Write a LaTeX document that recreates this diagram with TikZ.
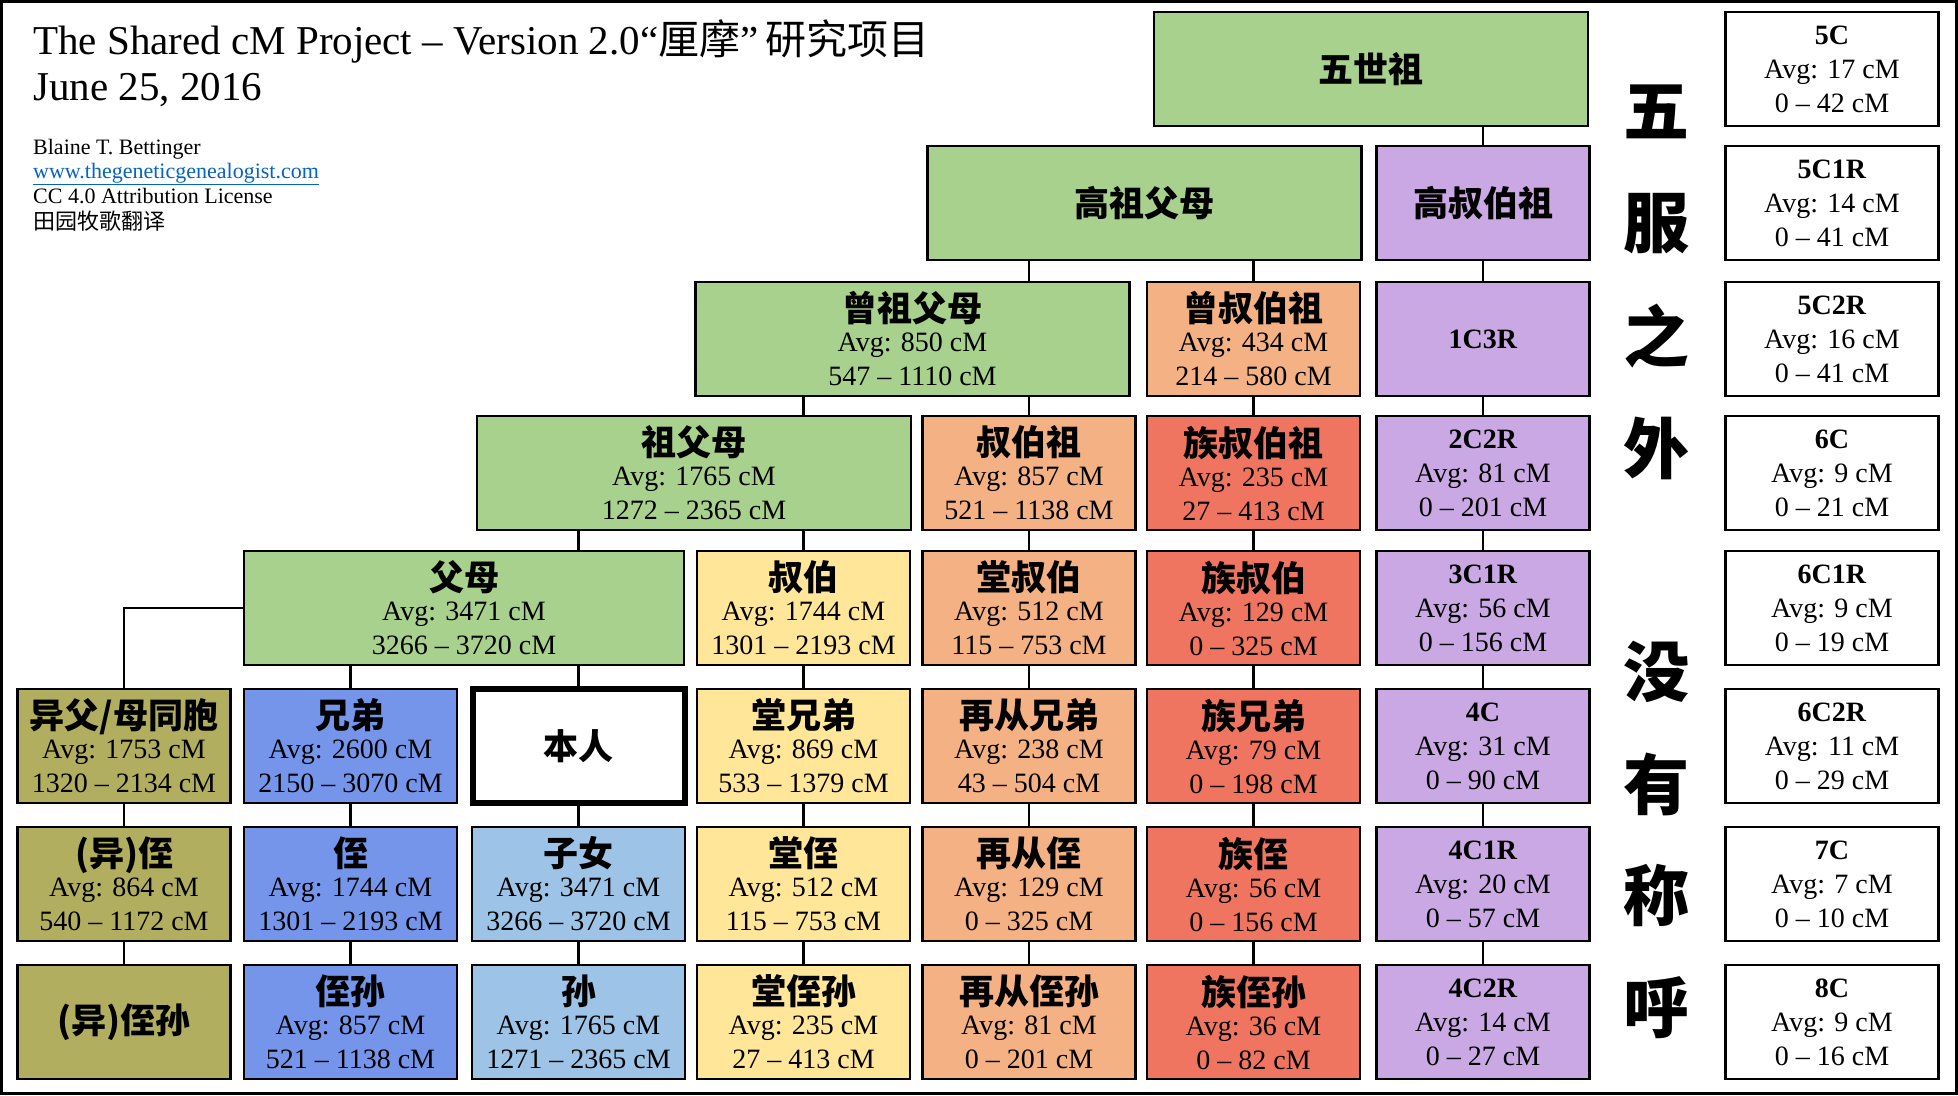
\documentclass[tikz,border=0pt]{standalone}
\usepackage{fontspec}
\setmainfont{Liberation Serif}
\newfontfamily\zh{Noto Sans CJK SC}

\definecolor{cgreen}{HTML}{A9D18E}
\definecolor{corange}{HTML}{F4B183}
\definecolor{cred}{HTML}{EF7561}
\definecolor{cyellow}{HTML}{FFE699}
\definecolor{cpurple}{HTML}{CAA8E3}
\definecolor{colive}{HTML}{B2AE5F}
\definecolor{cblue}{HTML}{7595EA}
\definecolor{clightblue}{HTML}{9DC3E6}
\definecolor{linkblue}{HTML}{0563C1}

\newcommand{\lab}[1]{{\zh\bfseries\fontsize{35}{34}\selectfont #1}}

\begin{document}
\begin{tikzpicture}[x=1pt, y=-1pt,
  box/.style={draw, line width=2.6pt, minimum width=213pt, minimum height=114pt,
    inner sep=0pt, align=center, font=\fontsize{28}{34}\selectfont},
  wide/.style={box, minimum width=434pt},
  link/.style={line width=2.6pt},
  note/.style={anchor=base west, inner sep=0pt, font=\fontsize{22}{22}\selectfont},
  bigzh/.style={inner sep=0pt, font=\zh\bfseries\fontsize{66}{66}\selectfont}]
    \useasboundingbox (0,0) rectangle (1958,1095);
    \draw[line width=3pt] (1.5,1.5) rectangle (1956.5,1093.5);

    % header
    \node[anchor=base west, inner sep=0pt, font=\fontsize{41}{41}\selectfont] (title) at (33,54)
        {The Shared cM Project – Version 2.0“{\zh 厘摩}”\,{\zh 研究项目}};
    \node[anchor=base west, inner sep=0pt, font=\fontsize{41}{41}\selectfont] (date) at (33,100) {June 25, 2016};
    \node[note] (author) at (33,154) {Blaine T. Bettinger};
    \node[note, text=linkblue] (site) at (33,178) {\underline{www.thegeneticgenealogist.com}};
    \node[note] (licence) at (33,203) {CC 4.0 Attribution License};
    \node[note] (translator) at (33,229) {\zh 田园牧歌翻译};

    % ancestors
    \node[wide, fill=cgreen] (wushizu) at (1371,69) {\lab{五世祖}};
    \node[wide, fill=cgreen] (gaozu) at (1144.5,203) {\lab{高祖父母}};
    \node[box, fill=cpurple] (gaoshu) at (1483,203) {\lab{高叔伯祖}};
    \node[wide, fill=cgreen] (zengzu) at (912.5,339) {\lab{曾祖父母}\\[-4pt] Avg: 850 cM\\ 547 – 1110 cM};
    \node[box, fill=corange] (zengshu) at (1253.5,339) {\lab{曾叔伯祖}\\[-4pt] Avg: 434 cM\\ 214 – 580 cM};
    \node[box, fill=cpurple] (c1c3r) at (1483,339) {\textbf{1C3R}};
    \node[wide, fill=cgreen] (zuzu) at (694,473) {\lab{祖父母}\\[-4pt] Avg: 1765 cM\\ 1272 – 2365 cM};
    \node[box, fill=corange] (shubozu) at (1029,473) {\lab{叔伯祖}\\[-4pt] Avg: 857 cM\\ 521 – 1138 cM};
    \node[box, fill=cred] (zushubozu) at (1253.5,473) {\lab{族叔伯祖}\\[-4pt] Avg: 235 cM\\ 27 – 413 cM};
    \node[box, fill=cpurple] (c2c2r) at (1483,473) {\textbf{2C2R}\\ Avg: 81 cM\\ 0 – 201 cM};
    \node[wide, fill=cgreen, minimum width=440pt] (fumu) at (464,608) {\lab{父母}\\[-4pt] Avg: 3471 cM\\ 3266 – 3720 cM};
    \node[box, fill=cyellow] (shubo) at (803.5,608) {\lab{叔伯}\\[-4pt] Avg: 1744 cM\\ 1301 – 2193 cM};
    \node[box, fill=corange] (tangshubo) at (1029,608) {\lab{堂叔伯}\\[-4pt] Avg: 512 cM\\ 115 – 753 cM};
    \node[box, fill=cred] (zushubo) at (1253.5,608) {\lab{族叔伯}\\[-4pt] Avg: 129 cM\\ 0 – 325 cM};
    \node[box, fill=cpurple] (c3c1r) at (1483,608) {\textbf{3C1R}\\ Avg: 56 cM\\ 0 – 156 cM};

    % own generation
    \node[box, fill=colive] (yifu) at (124,746) {\lab{异父/母同胞}\\[-4pt] Avg: 1753 cM\\ 1320 – 2134 cM};
    \node[box, fill=cblue] (xiongdi) at (350.5,746) {\lab{兄弟}\\[-4pt] Avg: 2600 cM\\ 2150 – 3070 cM};
    \node[box, fill=white, line width=6pt, minimum width=212pt] (benren) at (578.5,746) {\lab{本人}};
    \node[box, fill=cyellow] (tangxiongdi) at (803.5,746) {\lab{堂兄弟}\\[-4pt] Avg: 869 cM\\ 533 – 1379 cM};
    \node[box, fill=corange] (zaicongxiongdi) at (1029,746) {\lab{再从兄弟}\\[-4pt] Avg: 238 cM\\ 43 – 504 cM};
    \node[box, fill=cred] (zuxiongdi) at (1253.5,746) {\lab{族兄弟}\\[-4pt] Avg: 79 cM\\ 0 – 198 cM};
    \node[box, fill=cpurple] (c4c) at (1483,746) {\textbf{4C}\\ Avg: 31 cM\\ 0 – 90 cM};

    % descendants
    \node[box, fill=colive] (yizhi) at (124,884) {\lab{(异)侄}\\[-4pt] Avg: 864 cM\\ 540 – 1172 cM};
    \node[box, fill=cblue] (zhi) at (350.5,884) {\lab{侄}\\[-4pt] Avg: 1744 cM\\ 1301 – 2193 cM};
    \node[box, fill=clightblue] (zinv) at (578.5,884) {\lab{子女}\\[-4pt] Avg: 3471 cM\\ 3266 – 3720 cM};
    \node[box, fill=cyellow] (tangzhi) at (803.5,884) {\lab{堂侄}\\[-4pt] Avg: 512 cM\\ 115 – 753 cM};
    \node[box, fill=corange] (zaicongzhi) at (1029,884) {\lab{再从侄}\\[-4pt] Avg: 129 cM\\ 0 – 325 cM};
    \node[box, fill=cred] (zuzhi) at (1253.5,884) {\lab{族侄}\\[-4pt] Avg: 56 cM\\ 0 – 156 cM};
    \node[box, fill=cpurple] (c4c1r) at (1483,884) {\textbf{4C1R}\\ Avg: 20 cM\\ 0 – 57 cM};
    \node[box, fill=colive] (yizhisun) at (124,1022) {\lab{(异)侄孙}};
    \node[box, fill=cblue] (zhisun) at (350.5,1022) {\lab{侄孙}\\[-4pt] Avg: 857 cM\\ 521 – 1138 cM};
    \node[box, fill=clightblue] (sun) at (578.5,1022) {\lab{孙}\\[-4pt] Avg: 1765 cM\\ 1271 – 2365 cM};
    \node[box, fill=cyellow] (tangzhisun) at (803.5,1022) {\lab{堂侄孙}\\[-4pt] Avg: 235 cM\\ 27 – 413 cM};
    \node[box, fill=corange] (zaicongzhisun) at (1029,1022) {\lab{再从侄孙}\\[-4pt] Avg: 81 cM\\ 0 – 201 cM};
    \node[box, fill=cred] (zuzhisun) at (1253.5,1022) {\lab{族侄孙}\\[-4pt] Avg: 36 cM\\ 0 – 82 cM};
    \node[box, fill=cpurple] (c4c2r) at (1483,1022) {\textbf{4C2R}\\ Avg: 14 cM\\ 0 – 27 cM};

    % no names beyond the five degrees
    \foreach \ch/\i in {五/1,服/2,之/3,外/4,没/6,有/7,称/8,呼/9}
        \node[bigzh] (v\i) at (1656,{112*\i}) {\ch};

    \node[box] (w5c) at (1832,69) {\textbf{5C}\\ Avg: 17 cM\\ 0 – 42 cM};
    \node[box] (w5c1r) at (1832,203) {\textbf{5C1R}\\ Avg: 14 cM\\ 0 – 41 cM};
    \node[box] (w5c2r) at (1832,339) {\textbf{5C2R}\\ Avg: 16 cM\\ 0 – 41 cM};
    \node[box] (w6c) at (1832,473) {\textbf{6C}\\ Avg: 9 cM\\ 0 – 21 cM};
    \node[box] (w6c1r) at (1832,608) {\textbf{6C1R}\\ Avg: 9 cM\\ 0 – 19 cM};
    \node[box] (w6c2r) at (1832,746) {\textbf{6C2R}\\ Avg: 11 cM\\ 0 – 29 cM};
    \node[box] (w7c) at (1832,884) {\textbf{7C}\\ Avg: 7 cM\\ 0 – 10 cM};
    \node[box] (w8c) at (1832,1022) {\textbf{8C}\\ Avg: 9 cM\\ 0 – 16 cM};

    % connectors
    \draw[link] (wushizu.south -| gaoshu.north) -- (gaoshu.north);
    \draw[link] (gaozu.south -| shubozu.north) -- (zengzu.north -| shubozu.north);
    \draw[link] (gaozu.south -| zengshu.north) -- (zengshu.north);
    \draw[link] (zengzu.south -| shubo.north) -- (zuzu.north -| shubo.north);
    \draw[link] (zengzu.south -| shubozu.north) -- (shubozu.north);
    \draw[link] (zuzu.south -| benren.north) -- (fumu.north -| benren.north);
    \draw[link] (zuzu.south -| shubo.north) -- (shubo.north);
    \draw[link] (fumu.south -| xiongdi.north) -- (xiongdi.north);
    \draw[link] (fumu.south -| benren.north) -- (benren.north);
    \draw[link] (fumu.west) -| (yifu.north);
    \foreach \a/\b in {gaoshu/c1c3r, zengshu/zushubozu, c1c3r/c2c2r,
        shubozu/tangshubo, zushubozu/zushubo, c2c2r/c3c1r,
        shubo/tangxiongdi, tangshubo/zaicongxiongdi, zushubo/zuxiongdi, c3c1r/c4c,
        yifu/yizhi, xiongdi/zhi, benren/zinv, tangxiongdi/tangzhi,
        zaicongxiongdi/zaicongzhi, zuxiongdi/zuzhi, c4c/c4c1r,
        yizhi/yizhisun, zhi/zhisun, zinv/sun, tangzhi/tangzhisun,
        zaicongzhi/zaicongzhisun, zuzhi/zuzhisun, c4c1r/c4c2r}
        \draw[link] (\a.south) -- (\b.north);
\end{tikzpicture}
\end{document}
